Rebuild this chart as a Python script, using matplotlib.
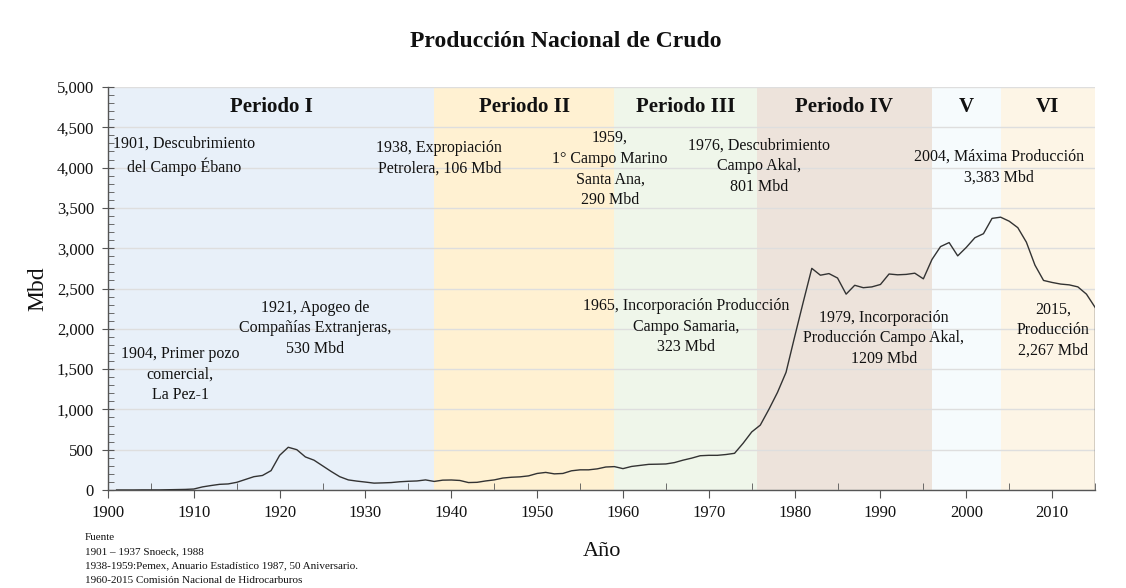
import matplotlib
matplotlib.use("Agg")
import matplotlib.pyplot as plt
from matplotlib.ticker import MultipleLocator, FuncFormatter

# ---------------- data ----------------
years = list(range(1901, 2016))
production = [
    0, 0, 0, 1, 1, 1, 3, 5, 7, 12,            # 1901-1910
    38, 55, 70, 75, 95, 130, 165, 180, 240, 430,  # 1911-1920
    530, 500, 410, 370, 300, 230, 165, 125, 110, 98,  # 1921-1930
    85, 88, 92, 102, 108, 112, 125, 106, 122, 124,    # 1931-1940
    118, 92, 95, 112, 125, 148, 158, 163, 175, 205,   # 1941-1950
    218, 200, 205, 238, 250, 250, 262, 285, 290, 265, # 1951-1960
    292, 305, 318, 320, 323, 340, 370, 395, 425, 430, # 1961-1970
    430, 440, 455, 580, 720, 805, 1000, 1210, 1460, 1900,  # 1971-1980
    2330, 2750, 2665, 2685, 2630, 2430, 2540, 2510, 2520, 2550,  # 1981-1990
    2680, 2670, 2675, 2690, 2620, 2860, 3020, 3070, 2905, 3010,  # 1991-2000
    3130, 3180, 3370, 3385, 3335, 3255, 3075, 2790, 2600, 2575,  # 2001-2010
    2555, 2545, 2520, 2430, 2267,                               # 2011-2015
]

period_names = ["Periodo I", "Periodo II", "Periodo III", "Periodo IV", "V", "VI"]
period_starts = [1900, 1938, 1959, 1975.6, 1996, 2004]
period_ends = [1938, 1959, 1975.6, 1996, 2004, 2015]
period_colors = ["#e8f0f9", "#fff1d2", "#eff6ea", "#ede3db", "#f6fbfd", "#fdf5e6"]

events = [
    "1901, Descubrimiento\ndel Campo Ébano",
    "1904, Primer pozo\ncomercial,\nLa Pez-1",
    "1921, Apogeo de\nCompañías Extranjeras,\n530 Mbd",
    "1938, Expropiación\nPetrolera, 106 Mbd",
    "1959,\n1° Campo Marino\nSanta Ana,\n290 Mbd",
    "1965, Incorporación Producción\nCampo Samaria,\n323 Mbd",
    "1976, Descubrimiento\nCampo Akal,\n801 Mbd",
    "1979, Incorporación\nProducción Campo Akal,\n1209 Mbd",
    "2004, Máxima Producción\n3,383 Mbd",
    "2015,\nProducción\n2,267 Mbd",
]
# label anchor (year, Mbd) for the top line of each annotation
event_x = [1908.9, 1908.4, 1924.1, 1938.6, 1958.5, 1967.4, 1975.9, 1990.4, 2003.8, 2010.1]
event_y = [4395, 1785, 2360, 4345, 4465, 2380, 4375, 2235, 4230, 2335]

source_lines = [
    "Fuente",
    "1901 \u2013 1937 Snoeck, 1988",
    "1938-1959:Pemex, Anuario Estadístico 1987, 50 Aniversario.",
    "1960-2015 Comisión Nacional de Hidrocarburos",
]

# ---------------- plot ----------------
plt.rcParams["font.family"] = ["Liberation Serif", "DejaVu Serif"]
fig = plt.figure(figsize=(11.26, 5.88), dpi=100)
ax = fig.add_axes([0.0959, 0.1667, 0.8766, 0.6853])

for s, e, c in zip(period_starts, period_ends, period_colors):
    ax.axvspan(s, e, color=c, zorder=0, lw=0)
for s, e, n in zip(period_starts, period_ends, period_names):
    ax.text((s + e) / 2, 4750, n, ha="center", va="center",
            fontsize=15, fontweight="bold", color="#111111", zorder=4)

ax.set_xlim(1900, 2015)
ax.set_ylim(0, 5000)
ax.yaxis.set_major_locator(MultipleLocator(500))
ax.yaxis.set_minor_locator(MultipleLocator(100))
ax.xaxis.set_major_locator(MultipleLocator(10))
ax.xaxis.set_minor_locator(MultipleLocator(5))
ax.yaxis.set_major_formatter(FuncFormatter(lambda v, p: f"{int(v):,}"))
ax.grid(axis="y", color="#dedede", lw=1.0, zorder=1)
ax.set_axisbelow(True)

ax.plot(years, production, color="#333333", lw=1.0, zorder=3)
ax.vlines(years[-1], 0, production[-1], color="#333333", lw=1.0, zorder=3)

for t, x, y in zip(events, event_x, event_y):
    ax.text(x, y, t, ha="center", va="top", fontsize=11.5,
            color="#111111", linespacing=1.38, zorder=4)

for sp in ["top", "right"]:
    ax.spines[sp].set_visible(False)
for sp in ["left", "bottom"]:
    ax.spines[sp].set_color("#555555")
    ax.spines[sp].set_linewidth(1.0)

ax.tick_params(axis="y", which="major", direction="inout", length=8,
               color="#555555", labelsize=12, labelcolor="#111111", pad=6)
ax.tick_params(axis="y", which="minor", direction="in", length=4, color="#555555")
ax.tick_params(axis="x", which="major", direction="out", length=6,
               color="#555555", labelsize=12, labelcolor="#111111", pad=5)
ax.tick_params(axis="x", which="minor", direction="in", length=5, color="#555555")

ax.set_ylabel("Mbd", fontsize=17, color="#111111", labelpad=6)
ax.set_xlabel("Año", fontsize=16, color="#111111", labelpad=15)

fig.text(0.502, 0.930, "Producción Nacional de Crudo", ha="center", va="center",
         fontsize=17, fontweight="bold", color="#111111")

for i, line in enumerate(source_lines):
    fig.text(0.0755, 1 - (537 + i * 14.5) / 588, line, ha="left", va="center",
             fontsize=8, color="#111111")

fig.savefig("out.png", dpi=100)
